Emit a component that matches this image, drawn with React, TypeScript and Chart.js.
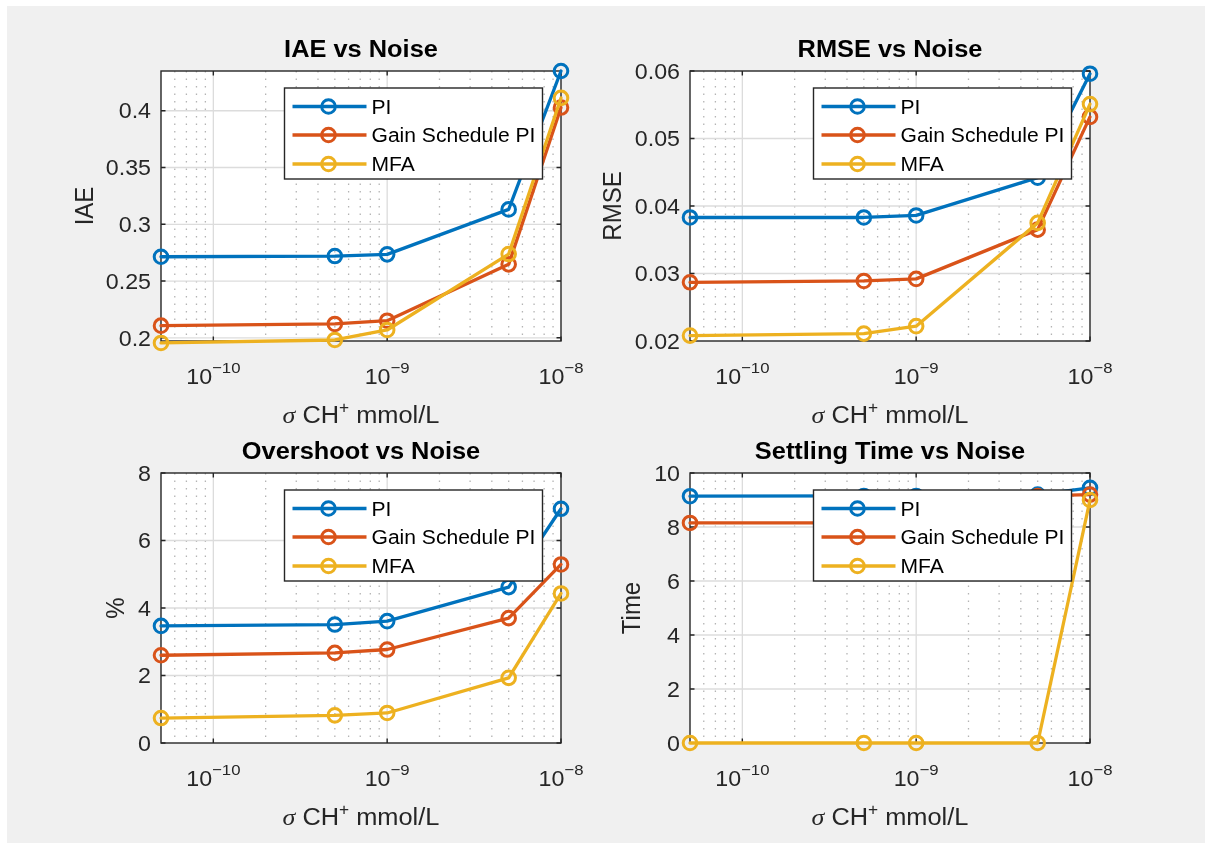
import React, { useEffect, useRef } from "react";
import { Chart, registerables } from "chart.js";

Chart.register(...registerables);

// ---------- data ----------
const noiseLevels = [5e-11, 5e-10, 1e-9, 5e-9, 1e-8];
const seriesLabels = ["PI", "Gain Schedule PI", "MFA"];
const seriesColors = ["#0072BD", "#D95319", "#EDB120"];

const iaePI = [0.2714, 0.272, 0.2735, 0.3131, 0.435];
const iaeGS = [0.2107, 0.2122, 0.2151, 0.2647, 0.4028];
const iaeMFA = [0.1955, 0.1981, 0.2069, 0.2738, 0.4113];

const rmsePI = [0.0383, 0.0383, 0.0386, 0.0442, 0.0596];
const rmseGS = [0.0287, 0.0289, 0.0292, 0.0365, 0.0532];
const rmseMFA = [0.0208, 0.0211, 0.0222, 0.0375, 0.0551];

const overshootPI = [3.47, 3.51, 3.61, 4.62, 6.94];
const overshootGS = [2.6, 2.67, 2.77, 3.7, 5.29];
const overshootMFA = [0.74, 0.82, 0.89, 1.93, 4.43];

const settlingPI = [9.14, 9.15, 9.15, 9.2, 9.45];
const settlingGS = [8.15, 8.15, 8.16, 9.15, 9.2];
const settlingMFA = [0, 0, 0, 0, 9.0];

const xMin = 5e-11;
const xMax = 1e-8;
const xMajorTicks = [1e-10, 1e-9, 1e-8];
const xTickExponents = ["\u221210", "\u22129", "\u22128"];
const minorMantissas = [2, 3, 4, 5, 6, 7, 8, 9];
const minorDecades = [1e-11, 1e-10, 1e-9];

const iaeTicks = [0.2, 0.25, 0.3, 0.35, 0.4];
const iaeTickLabels = ["0.2", "0.25", "0.3", "0.35", "0.4"];
const rmseTicks = [0.02, 0.03, 0.04, 0.05, 0.06];
const rmseTickLabels = ["0.02", "0.03", "0.04", "0.05", "0.06"];
const overshootTicks = [0, 2, 4, 6, 8];
const overshootTickLabels = ["0", "2", "4", "6", "8"];
const settlingTicks = [0, 2, 4, 6, 8, 10];
const settlingTickLabels = ["0", "2", "4", "6", "8", "10"];

// ---------- styles ----------
const W = 1205;
const H = 843;
const SX = 1.08;
const SANS = '"Liberation Sans", Arial, Helvetica, sans-serif';
const SERIF = '"Liberation Serif", "DejaVu Serif", serif';
const AXIS_COLOR = "#262626";
const LINE_W = 3.3;
const MARK_R = 6.8;
const MARK_W = 3;

type Area = { left: number; top: number; right: number; bottom: number };
type PanelCfg = {
  title: string;
  yLabel: string;
  yLabelX: number;
  yMin: number;
  yMax: number;
  yTicks: number[];
  yTickLabels: string[];
  series: number[][];
  area: Area;
};

const panels: PanelCfg[] = [
  {
    title: "IAE vs Noise",
    yLabel: "IAE",
    yLabelX: 84,
    yMin: 0.1972,
    yMax: 0.435,
    yTicks: iaeTicks,
    yTickLabels: iaeTickLabels,
    series: [iaePI, iaeGS, iaeMFA],
    area: { left: 161, top: 71, right: 561, bottom: 341 },
  },
  {
    title: "RMSE vs Noise",
    yLabel: "RMSE",
    yLabelX: 612,
    yMin: 0.02,
    yMax: 0.06,
    yTicks: rmseTicks,
    yTickLabels: rmseTickLabels,
    series: [rmsePI, rmseGS, rmseMFA],
    area: { left: 690, top: 71, right: 1090, bottom: 341 },
  },
  {
    title: "Overshoot vs Noise",
    yLabel: "%",
    yLabelX: 115,
    yMin: 0,
    yMax: 8,
    yTicks: overshootTicks,
    yTickLabels: overshootTickLabels,
    series: [overshootPI, overshootGS, overshootMFA],
    area: { left: 161, top: 473, right: 561, bottom: 743 },
  },
  {
    title: "Settling Time vs Noise",
    yLabel: "Time",
    yLabelX: 631,
    yMin: 0,
    yMax: 10,
    yTicks: settlingTicks,
    yTickLabels: settlingTickLabels,
    series: [settlingPI, settlingGS, settlingMFA],
    area: { left: 690, top: 473, right: 1090, bottom: 743 },
  },
];

function drawText(
  ctx: CanvasRenderingContext2D,
  s: string,
  x: number,
  y: number,
  font: string,
  color: string,
  align: CanvasTextAlign = "left"
) {
  ctx.save();
  ctx.translate(x, y);
  ctx.scale(SX, 1);
  ctx.font = font;
  ctx.fillStyle = color;
  ctx.textAlign = align;
  ctx.textBaseline = "alphabetic";
  ctx.fillText(s, 0, 0);
  ctx.restore();
}

function measure(ctx: CanvasRenderingContext2D, s: string, font: string) {
  ctx.save();
  ctx.font = font;
  const w = ctx.measureText(s).width * SX;
  ctx.restore();
  return w;
}

function makePlugin(cfg: PanelCfg) {
  return {
    id: "matlabAxes",
    beforeDraw(chart: any) {
      const { ctx, chartArea: a } = chart;
      ctx.save();
      ctx.fillStyle = "#ffffff";
      ctx.fillRect(a.left, a.top, a.right - a.left, a.bottom - a.top);
      ctx.restore();
    },
    beforeDatasetsDraw(chart: any) {
      const { ctx, chartArea: a } = chart;
      const xs = chart.scales.x;
      const ys = chart.scales.y;
      ctx.save();
      // minor dotted grid (x only)
      ctx.strokeStyle = "#b4b4b4";
      ctx.lineWidth = 1.3;
      ctx.setLineDash([1.4, 6.1]);
      for (const d of minorDecades) {
        for (const m of minorMantissas) {
          const v = m * d;
          if (v <= xMin * 1.001 || v >= xMax * 0.999) continue;
          const px = xs.getPixelForValue(v);
          ctx.beginPath();
          ctx.moveTo(px, a.top);
          ctx.lineTo(px, a.bottom);
          ctx.stroke();
        }
      }
      ctx.setLineDash([]);
      // major grid
      ctx.strokeStyle = "#dcdcdc";
      ctx.lineWidth = 1.3;
      for (const v of xMajorTicks) {
        if (v <= xMin || v >= xMax) continue;
        const px = xs.getPixelForValue(v);
        ctx.beginPath();
        ctx.moveTo(px, a.top);
        ctx.lineTo(px, a.bottom);
        ctx.stroke();
      }
      for (const v of cfg.yTicks) {
        if (v <= cfg.yMin || v >= cfg.yMax) continue;
        const py = ys.getPixelForValue(v);
        ctx.beginPath();
        ctx.moveTo(a.left, py);
        ctx.lineTo(a.right, py);
        ctx.stroke();
      }
      // box
      ctx.strokeStyle = AXIS_COLOR;
      ctx.lineWidth = 1.4;
      ctx.strokeRect(a.left, a.top, a.right - a.left, a.bottom - a.top);
      // tick marks (inward, all sides)
      const tl = 4.5;
      for (const v of xMajorTicks) {
        const px = xs.getPixelForValue(v);
        ctx.beginPath();
        ctx.moveTo(px, a.bottom);
        ctx.lineTo(px, a.bottom - tl);
        ctx.moveTo(px, a.top);
        ctx.lineTo(px, a.top + tl);
        ctx.stroke();
      }
      for (const v of cfg.yTicks) {
        if (v < cfg.yMin - 1e-9 || v > cfg.yMax + 1e-9) continue;
        const py = ys.getPixelForValue(v);
        ctx.beginPath();
        ctx.moveTo(a.left, py);
        ctx.lineTo(a.left + tl, py);
        ctx.moveTo(a.right, py);
        ctx.lineTo(a.right - tl, py);
        ctx.stroke();
      }
      ctx.restore();
    },
    afterDatasetsDraw(chart: any) {
      // legend box (north-east, inside)
      const { ctx, chartArea: a } = chart;
      const bw = 258;
      const bh = 91;
      const bx = a.right - 18.5 - bw;
      const by = a.top + 17;
      ctx.save();
      ctx.fillStyle = "#ffffff";
      ctx.fillRect(bx, by, bw, bh);
      ctx.strokeStyle = AXIS_COLOR;
      ctx.lineWidth = 1.4;
      ctx.strokeRect(bx, by, bw, bh);
      const rows = [18.5, 47, 76];
      chart.data.datasets.forEach((ds: any, i: number) => {
        const cy = by + rows[i];
        ctx.strokeStyle = ds.borderColor;
        ctx.lineWidth = LINE_W;
        ctx.beginPath();
        ctx.moveTo(bx + 8, cy);
        ctx.lineTo(bx + 82, cy);
        ctx.stroke();
        ctx.lineWidth = MARK_W;
        ctx.beginPath();
        ctx.arc(bx + 44, cy, MARK_R, 0, Math.PI * 2);
        ctx.stroke();
        drawText(ctx, ds.label, bx + 87, cy + 7, `19.5px ${SANS}`, "#000000");
      });
      ctx.restore();
    },
    afterDraw(chart: any) {
      const { ctx, chartArea: a } = chart;
      const ys = chart.scales.y;
      const xs = chart.scales.x;
      const cx = (a.left + a.right) / 2;
      // title
      drawText(ctx, cfg.title, cx, a.top - 14.3, `bold 23.5px ${SANS}`, "#000000", "center");
      // y tick labels
      const tickFont = `21.5px ${SANS}`;
      cfg.yTicks.forEach((v, i) => {
        if (v < cfg.yMin - 1e-9 || v > cfg.yMax + 1e-9) return;
        const py = ys.getPixelForValue(v);
        drawText(ctx, cfg.yTickLabels[i], a.left - 10, py + 7.7, tickFont, AXIS_COLOR, "right");
      });
      // x tick labels 10^-n
      const expFont = `15.5px ${SANS}`;
      xMajorTicks.forEach((v, i) => {
        const px = xs.getPixelForValue(v);
        const wBase = measure(ctx, "10", tickFont);
        const wExp = measure(ctx, xTickExponents[i], expFont);
        const x0 = px - (wBase + wExp) / 2;
        const base = a.bottom + 42.5;
        drawText(ctx, "10", x0, base, tickFont, AXIS_COLOR);
        drawText(ctx, xTickExponents[i], x0 + wBase, base - 10.5, expFont, AXIS_COLOR);
      });
      // x axis label: sigma CH^+ mmol/L
      const labFont = `23.5px ${SANS}`;
      const sigFont = `italic 24px ${SERIF}`;
      const supFont = `16px ${SANS}`;
      const p1 = "\u03c3";
      const p2 = " CH";
      const p3 = "+";
      const p4 = " mmol/L";
      const w1 = measure(ctx, p1, sigFont);
      const w2 = measure(ctx, p2, labFont);
      const w3 = measure(ctx, p3, supFont);
      const w4 = measure(ctx, p4, labFont);
      let x = cx - (w1 + w2 + w3 + w4) / 2;
      const lb = a.bottom + 82.3;
      drawText(ctx, p1, x, lb, sigFont, AXIS_COLOR);
      x += w1;
      drawText(ctx, p2, x, lb, labFont, AXIS_COLOR);
      x += w2;
      drawText(ctx, p3, x, lb - 10, supFont, AXIS_COLOR);
      x += w3;
      drawText(ctx, p4, x, lb, labFont, AXIS_COLOR);
      // y axis label (rotated)
      const yFont = `24px ${SANS}`;
      const cy = (a.top + a.bottom) / 2;
      ctx.save();
      ctx.translate(cfg.yLabelX, cy);
      ctx.scale(SX, 1);
      ctx.rotate(-Math.PI / 2);
      ctx.font = yFont;
      ctx.fillStyle = AXIS_COLOR;
      ctx.textAlign = "center";
      ctx.textBaseline = "alphabetic";
      ctx.fillText(cfg.yLabel, 0, (24 * 0.716) / 2);
      ctx.restore();
    },
  };
}

function Panel({ cfg }: { cfg: PanelCfg }) {
  const ref = useRef<HTMLCanvasElement | null>(null);
  useEffect(() => {
    if (!ref.current) return;
    const a = cfg.area;
    const chart = new Chart(ref.current, {
      type: "line",
      data: {
        datasets: cfg.series.map((vals, i) => ({
          label: seriesLabels[i],
          data: noiseLevels.map((x, j) => ({ x, y: vals[j] })),
          borderColor: seriesColors[i],
          backgroundColor: seriesColors[i],
          borderWidth: LINE_W,
          pointRadius: MARK_R,
          pointHoverRadius: MARK_R,
          pointBorderWidth: MARK_W,
          pointBackgroundColor: "rgba(0,0,0,0)",
          pointBorderColor: seriesColors[i],
          pointStyle: "circle",
          tension: 0,
          fill: false,
          clip: false,
          borderJoinStyle: "round",
          borderCapStyle: "round",
          order: 2 - i,
        })),
      } as any,
      options: {
        responsive: false,
        animation: false,
        events: [],
        layout: {
          padding: {
            left: a.left,
            top: a.top,
            right: W - a.right,
            bottom: H - a.bottom,
          },
        },
        plugins: {
          legend: { display: false },
          tooltip: { enabled: false },
          title: { display: false },
        },
        scales: {
          x: { type: "logarithmic", min: xMin, max: xMax, display: false },
          y: { type: "linear", min: cfg.yMin, max: cfg.yMax, display: false },
        },
      } as any,
      plugins: [makePlugin(cfg) as any],
    });
    return () => chart.destroy();
  }, [cfg]);
  return (
    <canvas
      ref={ref}
      width={W}
      height={H}
      style={{ position: "absolute", left: 0, top: 0 }}
    />
  );
}

export default function App() {
  return (
    <div
      style={{
        position: "absolute",
        left: 0,
        top: 0,
        width: W,
        height: H,
        background: "#ffffff",
        overflow: "hidden",
      }}
    >
      <div
        style={{
          position: "absolute",
          left: 7,
          top: 6,
          width: W - 7,
          height: H - 6,
          background: "#f0f0f0",
        }}
      />
      {panels.map((p) => (
        <Panel key={p.title} cfg={p} />
      ))}
    </div>
  );
}
